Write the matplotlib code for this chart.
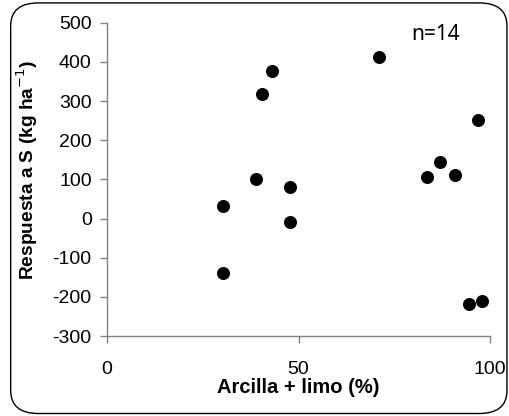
import matplotlib
matplotlib.use("Agg")
import matplotlib.pyplot as plt
from matplotlib.patches import FancyBboxPatch

# arcilla + limo (%) vs respuesta a S (kg/ha)
arcilla_limo = [30.2, 30.2, 39.0, 40.6, 43.2, 47.8, 47.8, 71.1, 83.5, 86.9, 90.8, 96.9, 94.6, 97.8]
respuesta = [33, -138, 100, 317, 377, 80, -8, 412, 105, 145, 110, 251, -218, -210]
x_ticks = [0, 50, 100]
y_ticks = [-300, -200, -100, 0, 100, 200, 300, 400, 500]

plt.rcParams["font.family"] = ["Liberation Sans", "DejaVu Sans"]
plt.rcParams["axes.unicode_minus"] = False

fig = plt.figure(figsize=(5.09, 4.16), dpi=100)

# rounded frame around the whole chart
frame = FancyBboxPatch((0.021, 0.006), 0.975, 0.987,
                       boxstyle="round,pad=0,rounding_size=0.055",
                       transform=fig.transFigure, fill=False,
                       edgecolor="black", linewidth=1.0)
fig.patches.append(frame)

ax = fig.add_axes([0.2102, 0.1923, 0.7525, 0.7531])
ax.scatter(arcilla_limo, respuesta, s=70, color="black", zorder=3, clip_on=False)

ax.set_xlim(0, 100)
ax.set_ylim(-300, 500)
ax.set_xticks(x_ticks)
ax.set_yticks(y_ticks)

for side in ["top", "right"]:
    ax.spines[side].set_visible(False)
for side in ["left", "bottom"]:
    ax.spines[side].set_color("#808080")
    ax.spines[side].set_linewidth(1.0)
ax.tick_params(direction="out", length=5, width=1, color="#808080",
               labelsize=14, pad=6)
ax.tick_params(axis="x", pad=13)

ax.set_xlabel("Arcilla + limo (%)", fontsize=14.5, fontweight="bold", labelpad=0)
ax.set_ylabel("Respuesta a S (kg ha$^{-1}$)", fontsize=13.8, fontweight="bold")
ax.yaxis.set_label_coords(-0.175, 0.53)

ax.text(0.859, 0.961, "n=14", transform=ax.transAxes, fontsize=15,
        family="Noto Sans", ha="center", va="center")

fig.savefig("out.png", dpi=100)
